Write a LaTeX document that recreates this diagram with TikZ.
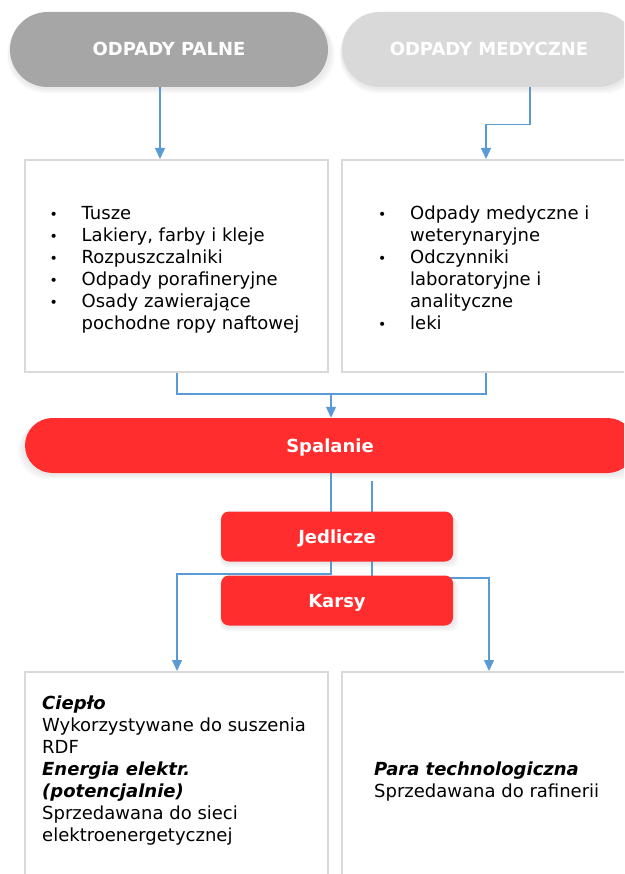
\documentclass[tikz,border=0pt]{standalone}
\usepackage{fontspec}
\setmainfont{DejaVu Sans}
\usetikzlibrary{arrows.meta,shadows}
\definecolor{arrblue}{HTML}{5B9BD5}
\definecolor{pillgray}{HTML}{A6A6A6}
\definecolor{pilllight}{HTML}{D9D9D9}
\definecolor{boxgray}{HTML}{D9D9D9}
\definecolor{redfill}{HTML}{FF2D2D}
\pgfdeclarelayer{bg}
\pgfsetlayers{bg,main}
\newcommand{\bulitem}{\makebox[33pt][l]{\hspace{1pt}{\fontsize{14}{22}\selectfont •}}}
\newcommand{\contind}{\hspace*{33pt}}
\begin{document}
\begin{tikzpicture}[x=1pt,y=-1pt,
  font=\fontsize{18}{22}\selectfont,
  softshadow/.style={
    drop shadow={opacity=0.06,shadow xshift=1pt,shadow yshift=-2pt,shadow scale=1.01},
    drop shadow={opacity=0.06,shadow xshift=1.5pt,shadow yshift=-3.5pt,shadow scale=1.02},
    drop shadow={opacity=0.06,shadow xshift=2pt,shadow yshift=-5pt,shadow scale=1.03}},
  pill/.style={rectangle, rounded corners=37.5pt, minimum height=75pt, inner sep=0pt,
    text=white, font=\fontsize{18}{22}\selectfont\bfseries, text height=13pt, text depth=0pt, softshadow},
  redpill/.style={rectangle, fill=redfill, rounded corners=27.5pt, minimum height=55pt, inner sep=0pt,
    text=white, font=\fontsize{18}{22}\selectfont\bfseries, text height=13pt, text depth=0pt, softshadow},
  redbox/.style={rectangle, fill=redfill, rounded corners=8pt, minimum width=232pt, minimum height=50pt, inner sep=0pt,
    text=white, font=\fontsize{18}{22}\selectfont\bfseries, text height=13pt, text depth=0pt, softshadow},
  whitebox/.style={rectangle, draw=boxgray, line width=2pt, fill=white, minimum width=303pt, minimum height=212pt, inner sep=0pt},
  txt/.style={anchor=base west, inner sep=0pt, align=left},
  ln/.style={draw=arrblue, line width=1.2pt},
  arr/.style={ln, -{Triangle[length=11pt,width=10pt]}}
]
\useasboundingbox (0,0) rectangle (624,874);
\clip (0,0) rectangle (624,874);

% top pills
\node[pill, fill=pillgray, minimum width=318pt] (palne) at (169,49.5) {ODPADY PALNE};
\node[pill, fill=pilllight, minimum width=294pt] (medy) at (489,49.5) {ODPADY MEDYCZNE};

% upper boxes
\node[whitebox] (box1) at (176.5,266) {};
\node[whitebox] (box2) at (493.5,266) {};

\node[txt] (list1) at (48.5,220) {\parbox[t]{280pt}{\bulitem Tusze\\
\bulitem Lakiery, farby i kleje\\
\bulitem Rozpuszczalniki\\
\bulitem Odpady porafineryjne\\
\bulitem Osady zawierające\\
\contind pochodne ropy naftowej}};

\node[txt] (list2) at (377,220) {\parbox[t]{280pt}{\bulitem Odpady medyczne i\\
\contind weterynaryjne\\
\bulitem Odczynniki\\
\contind laboratoryjne i\\
\contind analityczne\\
\bulitem leki}};

% combustion
\node[redpill, minimum width=610pt] (spal) at (330,445.5) {Spalanie};
\node[redbox] (jed) at (337,536.5) {Jedlicze};
\node[redbox] (karsy) at (337,600.5) {Karsy};

% lower boxes
\node[whitebox] (box3) at (176.5,778) {};
\node[whitebox] (box4) at (493.5,778) {};

\node[txt] (out1) at (42,709) {\parbox[t]{280pt}{\textbf{\textit{Ciepło}}\\
Wykorzystywane do suszenia\\
RDF\\
\textbf{\textit{Energia elektr.}}\\
\textbf{\textit{(potencjalnie)}}\\
Sprzedawana do sieci\\
elektroenergetycznej}};

\node[txt] (out2) at (374,775) {\parbox[t]{280pt}{\textbf{\textit{Para technologiczna}}\\
Sprzedawana do rafinerii}};

% helper coordinates
\coordinate (xa) at (160,0);
\coordinate (xb) at (530,0);
\coordinate (xc) at (486,0);
\coordinate (xd) at (177,0);
\coordinate (xe) at (489,0);
\coordinate (j1) at (331,394);
\coordinate (k1) at (331,574);
\coordinate (s2) at (372,481);
\coordinate (k2) at (372,578);

\begin{pgfonlayer}{bg}
\draw[arr] (palne.south -| xa) -- (box1.north -| xa);
\draw[arr] (medy.south -| xb) -- ++(0,37) -| (box2.north -| xc);
\draw[ln] (box1.south -| xd) |- (j1) -| (box2.south -| xc);
\draw[arr] (j1) -- (spal.north -| j1);
\draw[arr] (spal.south -| j1) -- (k1) -| (box3.north -| xd);
\draw[arr] (s2) -- (k2) -| (box4.north -| xe);
\end{pgfonlayer}
\end{tikzpicture}
\end{document}
